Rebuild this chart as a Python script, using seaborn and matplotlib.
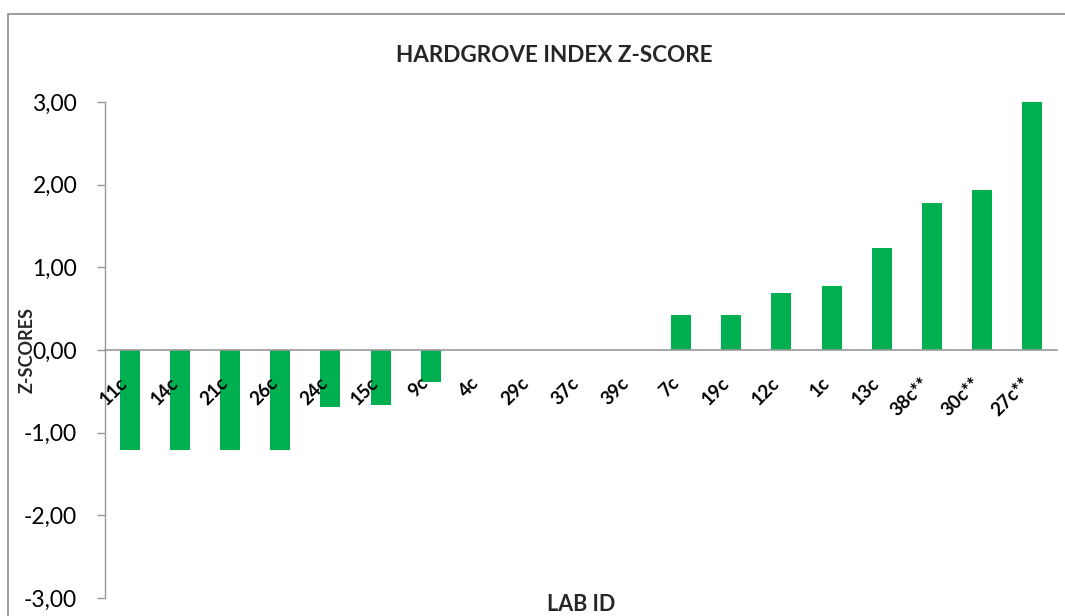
import matplotlib
matplotlib.use("Agg")
import matplotlib.pyplot as plt
import seaborn as sns
import pandas as pd
from matplotlib.patches import Rectangle
from matplotlib.ticker import FuncFormatter
from matplotlib.transforms import offset_copy

labs = ["11c", "14c", "21c", "26c", "24c", "15c", "9c", "4c", "29c", "37c",
        "39c", "7c", "19c", "12c", "1c", "13c", "38c**", "30c**", "27c**"]
zscores = [-1.21, -1.21, -1.21, -1.21, -0.69, -0.67, -0.39, 0.0, 0.0, 0.0,
           0.0, 0.42, 0.42, 0.69, 0.77, 1.23, 1.78, 1.94, 3.00]
yticks = [-3, -2, -1, 0, 1, 2, 3]

title = "HARDGROVE INDEX Z-SCORE"
xlabel = "LAB ID"
ylabel = "Z-SCORES"

sns.set_theme(style="white")
plt.rcParams["font.family"] = ["Lato", "DejaVu Sans"]

df = pd.DataFrame({"lab": labs, "z": zscores})

fig = plt.figure(figsize=(10.65, 6.16), dpi=100)
ax = fig.add_axes([105 / 1065, 18 / 616, 952 / 1065, 496 / 616])

sns.barplot(data=df, x="lab", y="z", order=labs, color="#00B050",
            width=0.4, saturation=1, ax=ax, edgecolor="none")

ax.set_axisbelow(False)
ax.set_ylim(-3, 3)
ax.set_xlim(-0.5, len(labs) - 0.5)
ax.set_yticks(yticks)
ax.yaxis.set_major_formatter(FuncFormatter(lambda v, p: f"{v:.2f}".replace(".", ",")))
ax.tick_params(axis="y", labelsize=16.5, length=6, width=1, color="#999999",
               pad=14, left=True, labelcolor="black")

for s in ["top", "right"]:
    ax.spines[s].set_visible(False)
ax.spines["bottom"].set_position(("data", 0))
ax.spines["bottom"].set_color("#999999")
ax.spines["bottom"].set_linewidth(1.2)
ax.spines["left"].set_color("#999999")
ax.spines["left"].set_linewidth(1)

ax.set_xticks(range(len(labs)))
ax.set_xticklabels([""] * len(labs))
ax.tick_params(axis="x", length=0)

lab_tr = offset_copy(ax.transData, fig=fig, x=-5, y=-30, units="dots")
for i, lab in enumerate(labs):
    ax.text(i, 0, lab, transform=lab_tr, rotation=45, rotation_mode="anchor",
            ha="right", va="center", fontsize=13.5, fontweight="bold",
            color="black", zorder=5)

ax.set_xlabel(xlabel, fontsize=15.5, fontweight="bold", labelpad=0)
ax.xaxis.set_label_coords(0.5, 0.008)
ax.xaxis.label.set_va("top")
ax.set_ylabel(ylabel, fontsize=13, fontweight="bold")
ax.yaxis.set_label_coords(-0.073, 0.5)

fig.text(554 / 1065, 1 - 55 / 616, title, ha="center", va="center",
         fontsize=16.2, fontweight="bold")

fig.patches.append(Rectangle((8 / 1065, -0.1), 1.2, 1.1 - 14 / 616,
                             transform=fig.transFigure, fill=False,
                             edgecolor="#8c8c8c", linewidth=1.2, clip_on=False))

fig.savefig("out.png", dpi=100)
